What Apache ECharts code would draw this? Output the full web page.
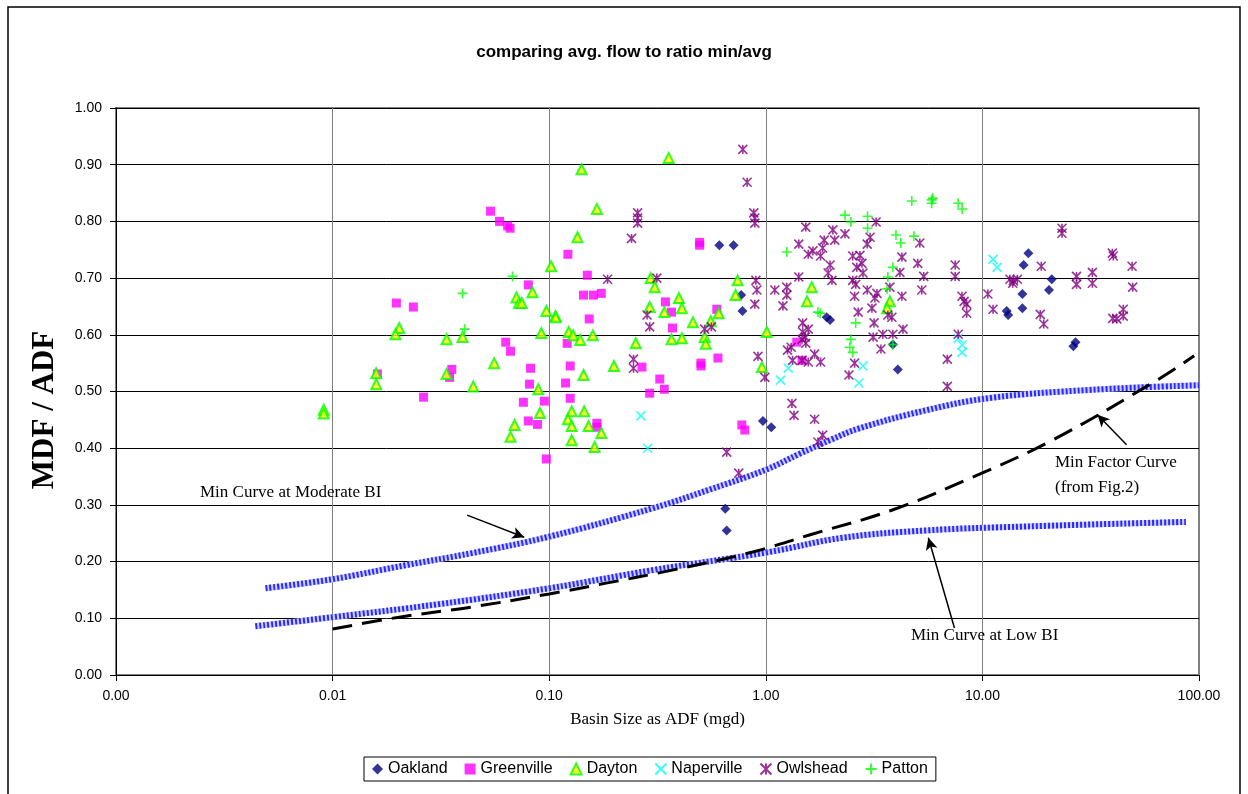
<!DOCTYPE html>
<html><head><meta charset="utf-8">
<script src="https://cdn.jsdelivr.net/npm/echarts@6/dist/echarts.min.js"></script>
<style>html,body{margin:0;padding:0;background:#fff}#c{width:1248px;height:794px}</style>
</head><body><div id="c"></div>
<script>
const titleText = 'comparing avg. flow to ratio min/avg';
const xTicks = [0.001, 0.01, 0.1, 1, 10, 100];
const seriesNames = ['Oakland','Greenville','Dayton','Naperville','Owlshead','Patton'];

const oakland = [[0.61,0.758],[0.71,0.758],[0.77,0.670],[0.78,0.642],[0.97,0.448],[1.06,0.437],[0.65,0.293],[0.66,0.255],[1.91,0.631],[1.98,0.626],[4.07,0.539],[3.86,0.583],[16.3,0.744],[15.5,0.723],[20.9,0.698],[20.3,0.679],[15.3,0.672],[15.3,0.647],[12.95,0.642],[13.15,0.635],[26.9,0.587],[26.3,0.580]];

const greenville = [[0.0536,0.818],[0.059,0.800],[0.0643,0.792],[0.066,0.788],[0.0801,0.688],[0.0197,0.656],[0.0236,0.649],[0.063,0.587],[0.0663,0.571],[0.0355,0.539],[0.0347,0.525],[0.0161,0.531],[0.082,0.541],[0.0811,0.513],[0.0263,0.490],[0.076,0.481],[0.095,0.483],[0.0801,0.448],[0.0883,0.442],[0.097,0.381],[0.495,0.763],[0.495,0.758],[0.122,0.742],[0.15,0.705],[0.144,0.670],[0.16,0.670],[0.174,0.673],[0.153,0.628],[0.344,0.658],[0.367,0.640],[0.594,0.645],[0.371,0.612],[0.121,0.585],[0.125,0.545],[0.268,0.543],[0.502,0.550],[0.502,0.545],[0.601,0.559],[0.119,0.515],[0.324,0.522],[0.34,0.504],[0.291,0.497],[0.125,0.488],[0.166,0.444],[0.166,0.437],[0.775,0.441],[0.80,0.432],[1.39,0.587],[1.47,0.555]];

const dayton = [[0.0091,0.468],[0.0091,0.461],[0.102,0.721],[0.0706,0.666],[0.0837,0.675],[0.0725,0.656],[0.0747,0.656],[0.097,0.642],[0.107,0.633],[0.0203,0.612],[0.0195,0.601],[0.0336,0.592],[0.0398,0.596],[0.092,0.603],[0.0557,0.550],[0.0159,0.532],[0.0159,0.513],[0.0336,0.531],[0.0446,0.509],[0.089,0.504],[0.0906,0.462],[0.0692,0.441],[0.0663,0.420],[0.141,0.892],[0.356,0.912],[0.166,0.822],[0.135,0.772],[0.294,0.700],[0.307,0.684],[0.741,0.696],[0.725,0.670],[0.397,0.665],[0.41,0.647],[0.291,0.649],[0.34,0.640],[0.606,0.638],[0.107,0.631],[0.461,0.622],[0.557,0.624],[0.123,0.605],[0.129,0.599],[0.139,0.591],[0.159,0.599],[0.251,0.585],[0.367,0.592],[0.41,0.594],[0.522,0.596],[0.528,0.584],[1.01,0.605],[0.199,0.545],[0.144,0.529],[0.96,0.543],[0.127,0.465],[0.145,0.465],[0.122,0.451],[0.127,0.439],[0.152,0.439],[0.174,0.427],[0.127,0.414],[0.162,0.402],[1.63,0.684],[1.55,0.659],[3.74,0.659],[3.63,0.647]];

const naperville = [[0.265,0.457],[0.285,0.400],[1.27,0.541],[1.17,0.520],[2.81,0.545],[2.69,0.515],[7.73,0.594],[8.06,0.582],[8.06,0.569],[11.2,0.733],[11.7,0.719]];

const owlshead = [[0.783,0.927],[0.82,0.869],[0.256,0.815],[0.256,0.806],[0.256,0.797],[0.88,0.815],[0.89,0.806],[0.89,0.797],[0.24,0.770],[0.186,0.698],[0.314,0.700],[0.90,0.696],[0.91,0.679],[0.89,0.654],[0.283,0.635],[0.291,0.614],[0.522,0.610],[0.561,0.614],[0.245,0.557],[0.245,0.541],[0.92,0.562],[0.99,0.525],[0.66,0.393],[0.75,0.356],[1.53,0.790],[1.42,0.760],[2.04,0.785],[2.32,0.778],[1.86,0.767],[2.08,0.767],[1.83,0.753],[1.57,0.742],[1.65,0.748],[1.79,0.739],[3.03,0.772],[2.94,0.760],[3.23,0.799],[2.52,0.739],[2.72,0.740],[2.78,0.726],[1.98,0.723],[1.94,0.709],[2.63,0.719],[2.81,0.709],[1.42,0.702],[2.02,0.696],[2.52,0.696],[2.60,0.689],[1.10,0.679],[1.25,0.684],[1.25,0.670],[1.20,0.651],[2.57,0.668],[2.94,0.679],[3.26,0.673],[3.19,0.665],[3.74,0.684],[4.25,0.668],[5.14,0.762],[4.25,0.737],[5.03,0.726],[4.16,0.710],[5.36,0.703],[5.25,0.679],[7.49,0.723],[7.49,0.703],[8.05,0.668],[8.23,0.659],[8.46,0.654],[8.46,0.638],[2.67,0.640],[3.09,0.647],[3.66,0.635],[3.82,0.631],[3.16,0.621],[1.48,0.621],[1.57,0.610],[1.48,0.605],[1.52,0.596],[1.47,0.592],[1.53,0.585],[1.31,0.578],[1.26,0.573],[3.13,0.596],[3.47,0.601],[3.86,0.601],[4.30,0.610],[3.40,0.575],[1.33,0.555],[1.47,0.555],[1.57,0.552],[1.68,0.566],[1.79,0.552],[2.57,0.550],[2.42,0.529],[6.89,0.557],[6.89,0.509],[1.32,0.479],[1.35,0.458],[1.68,0.451],[1.83,0.423],[1.74,0.411],[7.73,0.601],[23.3,0.788],[23.3,0.779],[39.8,0.744],[40.2,0.739],[18.7,0.721],[49.1,0.721],[32.2,0.710],[27.2,0.703],[27.2,0.689],[32.2,0.691],[13.4,0.698],[13.9,0.695],[14.5,0.698],[13.8,0.691],[49.4,0.684],[10.6,0.672],[11.2,0.645],[18.5,0.636],[19.2,0.619],[40.0,0.629],[41.7,0.628],[44.7,0.645],[44.7,0.633]];

const patton = [[0.0677,0.703],[0.0398,0.673],[0.0407,0.610],[1.25,0.746],[2.32,0.811],[2.47,0.799],[2.95,0.809],[2.95,0.788],[4.72,0.836],[5.83,0.838],[5.9,0.841],[5.83,0.832],[7.73,0.832],[8.06,0.822],[3.99,0.776],[4.2,0.762],[4.83,0.774],[3.86,0.719],[3.66,0.702],[3.63,0.681],[1.74,0.640],[1.78,0.638],[2.60,0.621],[2.47,0.592],[2.44,0.578],[2.52,0.569],[3.86,0.583]];

const curveModerate = [[0.0049,0.153],[0.01,0.169],[0.022,0.194],[0.044,0.215],[0.1,0.244],[0.3,0.294],[0.55,0.327],[1.0,0.362],[1.43,0.390],[2.0,0.415],[2.7,0.435],[5.5,0.467],[11,0.489],[32,0.503],[100,0.511]];
const curveLow = [[0.0044,0.086],[0.01,0.102],[0.031,0.125],[0.1,0.153],[0.3,0.185],[1.04,0.217],[2.26,0.242],[5.5,0.255],[16,0.262],[87,0.270]];
const curveFactor = [[0.01,0.081],[0.0203,0.102],[0.044,0.120],[0.1,0.143],[0.183,0.162],[0.37,0.185],[0.87,0.217],[1.59,0.247],[3.84,0.291],[9,0.349],[21,0.414],[64,0.520],[95,0.563]];

const arrowModerate = [[0.0418,0.282],[0.0767,0.243]];
const arrowFactor = [[46.3,0.406],[34.0,0.459]];
const arrowLow = [[7.43,0.083],[5.63,0.242]];

const chart = echarts.init(document.getElementById('c'));
const SANS = 'Liberation Sans, Arial, sans-serif';
const SERIF = 'Liberation Serif, Times New Roman, serif';

function strokeSym(color){ return {color:'rgba(0,0,0,0)', borderColor:color, borderWidth:1.6}; }

const scatterDefs = [
  {name:'Oakland', data:oakland, symbol:'diamond', symbolSize:10, itemStyle:{color:'#000080'}},
  {name:'Greenville', data:greenville, symbol:'rect', symbolSize:9, itemStyle:{color:'#ff00ff'}},
  {name:'Dayton', data:dayton, symbol:'triangle', symbolSize:10, itemStyle:{color:'#ffff00', borderColor:'#00ff00', borderWidth:2}},
  {name:'Naperville', data:naperville, symbol:'path://M0,0L10,10M10,0L0,10', symbolSize:9, itemStyle:strokeSym('#00ffff')},
  {name:'Owlshead', data:owlshead, symbol:'path://M0,0L10,10M10,0L0,10M5,0L5,10', symbolSize:9, itemStyle:strokeSym('#800080')},
  {name:'Patton', data:patton, symbol:'path://M5,0L5,10M0,5L10,5', symbolSize:10, itemStyle:strokeSym('#00ff00')}
];

function hatched(data){
  return [
    {type:'line', data:data, smooth:0.4, showSymbol:false, silent:true, z:1, lineStyle:{color:'#d0d0ff', width:6}},
    {type:'line', data:data, smooth:0.4, showSymbol:false, silent:true, z:2, lineStyle:{color:'#2a2aff', width:6, type:[2,2]}}
  ];
}
function arrow(pts){
  return [{coord:pts[0], symbol:'none'},{coord:pts[1], symbol:'arrow'}];
}

const series = [
  ...hatched(curveModerate),
  ...hatched(curveLow),
  {type:'line', data:curveFactor, smooth:0.4, showSymbol:false, silent:true, z:3, lineStyle:{color:'#000', width:3, type:[20,10]},
   markLine:{silent:true, symbol:['none','arrow'], symbolSize:[9,12], label:{show:false}, lineStyle:{color:'#000', width:1.5, type:'solid'},
     data:[arrow(arrowModerate), arrow(arrowFactor), arrow(arrowLow)]}},
  ...scatterDefs.map(s => ({type:'scatter', name:s.name, data:s.data, symbol:s.symbol, symbolSize:s.symbolSize, itemStyle:s.itemStyle, z:5}))
];

chart.setOption({
  animation:false,
  backgroundColor:'#fff',
  title:{text:titleText, left:'center', top:39, textStyle:{fontFamily:SANS, fontSize:17, fontWeight:'bold', color:'#000'}},
  grid:{left:116, right:49, top:108, bottom:119, show:true, borderColor:'#808080', borderWidth:2, backgroundColor:'#fff', outerBoundsMode:'none'},
  legend:{data:seriesNames, left:364, top:757, orient:'horizontal', itemGap:17, itemWidth:11, itemHeight:11,
    borderColor:'#000', borderWidth:1, padding:[4,8,4,8],
    textStyle:{fontFamily:SANS, fontSize:16, color:'#000'}},
  xAxis:{type:'log', logBase:10, min:xTicks[0], max:xTicks[xTicks.length-1],
    name:'Basin Size as ADF (mgd)', nameLocation:'middle', nameGap:36,
    nameTextStyle:{fontFamily:SERIF, fontSize:17, color:'#000'},
    axisLine:{show:true, lineStyle:{color:'#000', width:1}},
    axisTick:{show:true, length:6, lineStyle:{color:'#000'}},
    minorTick:{show:false},
    axisLabel:{fontFamily:SANS, fontSize:14, color:'#000', margin:14, formatter:v=>Number(v).toFixed(2)},
    splitLine:{show:true, lineStyle:{color:'#808080', width:1}}},
  yAxis:{type:'value', min:0, max:1, interval:0.1,
    axisLine:{show:true, lineStyle:{color:'#000', width:1}},
    axisTick:{show:true, length:6, lineStyle:{color:'#000'}},
    axisLabel:{fontFamily:SANS, fontSize:14, color:'#000', margin:14, formatter:v=>Number(v).toFixed(2)},
    splitLine:{show:true, lineStyle:{color:'#000', width:1}}},
  graphic:[
    {type:'rect', shape:{x:8, y:7, width:1232, height:800}, style:{fill:'none', stroke:'#000', lineWidth:1.5}, silent:true, z:0},
    {type:'text', x:45, y:410, rotation:Math.PI/2, style:{text:'MDF / ADF', font:'bold 31px '+SERIF, fill:'#000', textAlign:'center', textVerticalAlign:'middle'}, z:10},
    {type:'text', left:200, top:484, style:{text:'Min Curve at Moderate BI', font:'17px '+SERIF, fill:'#000'}, z:10},
    {type:'text', left:1055, top:450, style:{text:'Min Factor Curve\n(from Fig.2)', font:'17px '+SERIF, fill:'#000', lineHeight:25}, z:10},
    {type:'text', left:911, top:627, style:{text:'Min Curve at Low BI', font:'17px '+SERIF, fill:'#000'}, z:10}
  ],
  series:series
});
</script></body></html>
